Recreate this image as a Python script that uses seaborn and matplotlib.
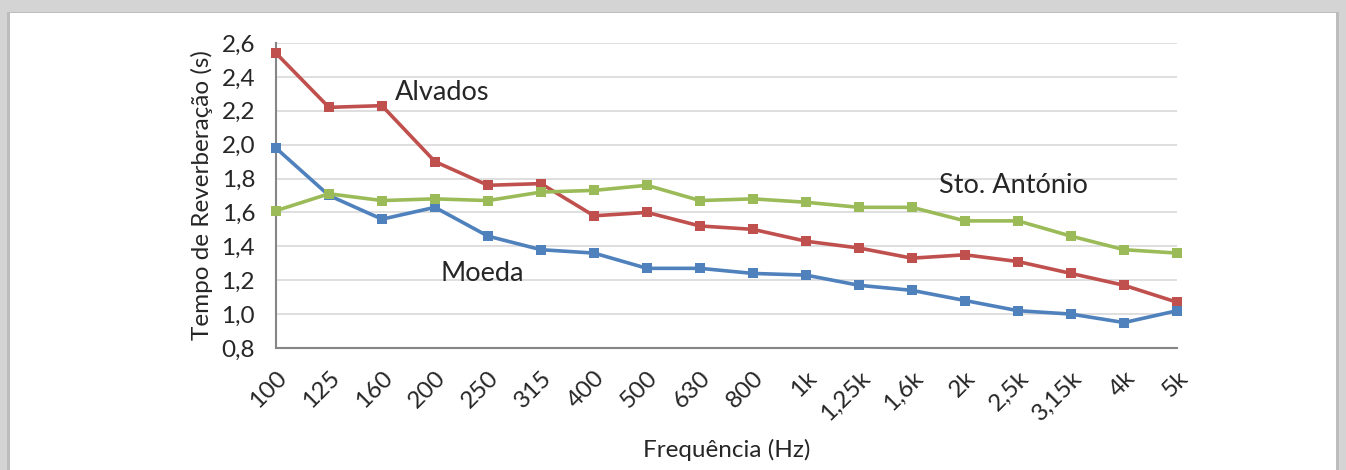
import pandas as pd
import numpy as np
import matplotlib.pyplot as plt
import seaborn as sns
from matplotlib.patches import Rectangle

# ========== DADOS ==========
freqs = ['100', '125', '160', '200', '250', '315', '400', '500', '630', '800',
         '1k', '1,25k', '1,6k', '2k', '2,5k', '3,15k', '4k', '5k']
alvados = [2.54, 2.22, 2.23, 1.90, 1.76, 1.77, 1.58, 1.60, 1.52, 1.50,
           1.43, 1.39, 1.33, 1.35, 1.31, 1.24, 1.17, 1.07]
moeda = [1.98, 1.70, 1.56, 1.63, 1.46, 1.38, 1.36, 1.27, 1.27, 1.24,
         1.23, 1.17, 1.14, 1.08, 1.02, 1.00, 0.95, 1.02]
sto_antonio = [1.61, 1.71, 1.67, 1.68, 1.67, 1.72, 1.73, 1.76, 1.67, 1.68,
               1.66, 1.63, 1.63, 1.55, 1.55, 1.46, 1.38, 1.36]
yticks = [0.8, 1.0, 1.2, 1.4, 1.6, 1.8, 2.0, 2.2, 2.4, 2.6]

series = {'Alvados': alvados, 'Moeda': moeda, 'Sto. António': sto_antonio}
colors = {'Alvados': '#C0504D', 'Moeda': '#4F81BD', 'Sto. António': '#9BBB59'}

df = pd.concat([
    pd.DataFrame({'pos': range(len(freqs)), 'freq': freqs, 'T': vals, 'local': name})
    for name, vals in series.items()
], ignore_index=True)

# ========== GRÁFICO ==========
sns.set_style('white')
plt.rcParams['font.family'] = ['Lato', 'DejaVu Sans']
txt = '#262626'
fs = 17.5

fig = plt.figure(figsize=(13.46, 4.70), dpi=100, facecolor='#d4d4d4')
# moldura branca com sombra
fig.patches.append(Rectangle((0.0055, 0.0), 0.989, 0.974, transform=fig.transFigure,
                             facecolor='#bdbdbd', edgecolor='none', zorder=-2))
fig.patches.append(Rectangle((0.0075, 0.0), 0.985, 0.972, transform=fig.transFigure,
                             facecolor='white', edgecolor='none', zorder=-1))

ax = fig.add_axes([0.205, 0.2596, 0.6695, 0.649])
ax.set_facecolor('none')

sns.lineplot(data=df, x='pos', y='T', hue='local', palette=colors, ax=ax,
             marker='s', markersize=7, markeredgewidth=0, linewidth=2.6,
             legend=False, clip_on=False, zorder=3)

ax.set_xlim(0, len(freqs) - 1)
ax.set_ylim(0.8, 2.6)
ax.set_yticks(yticks)
ax.set_yticklabels([f'{v:.1f}'.replace('.', ',') for v in yticks], fontsize=fs, color=txt)
ax.set_xticks(range(len(freqs)))
ax.set_xticklabels(freqs, rotation=45, ha='right', va='top', rotation_mode='anchor',
                   fontsize=fs, color=txt)
ax.tick_params(axis='x', length=7, width=1.3, color='#868686', direction='out', pad=7)
ax.tick_params(axis='y', length=5, width=1.3, color='#868686', direction='out', pad=10)

ax.grid(axis='y', color='#d9d9d9', linewidth=1.2)
ax.set_axisbelow(True)
for s in ['top', 'right']:
    ax.spines[s].set_visible(False)
for s in ['left', 'bottom']:
    ax.spines[s].set_color('#868686')
    ax.spines[s].set_linewidth(1.5)

ax.set_xlabel('Frequência (Hz)', fontsize=fs, color=txt, labelpad=10)
ax.set_ylabel('Tempo de Reverberação (s)', fontsize=fs, color=txt, labelpad=6)

ax.text(2.25, 2.31, 'Alvados', fontsize=19.5, color=txt, va='center')
ax.text(3.1, 1.24, 'Moeda', fontsize=19.5, color=txt, va='center')
ax.text(12.5, 1.76, 'Sto. António', fontsize=19.5, color=txt, va='center')

plt.savefig('out.png', dpi=100, facecolor=fig.get_facecolor())
